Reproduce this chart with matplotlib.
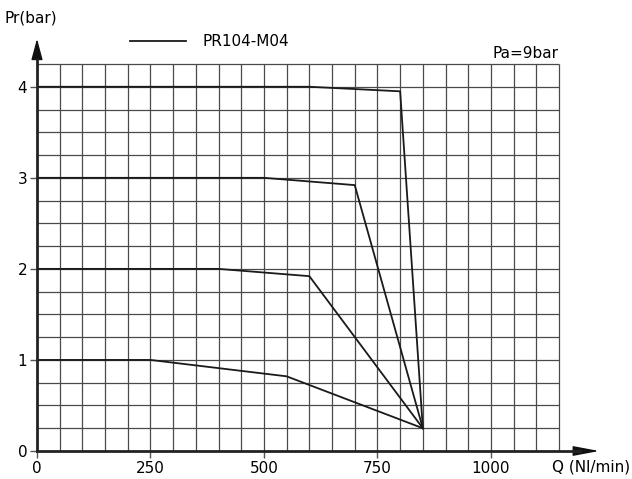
import numpy as np
import matplotlib.pyplot as plt

# data (Q in Nl/min, Pr in bar)
q1 = [0, 250, 550, 850]
p1 = [1.0, 1.0, 0.82, 0.25]
q2 = [0, 400, 600, 850]
p2 = [2.0, 2.0, 1.92, 0.25]
q3 = [0, 500, 700, 850]
p3 = [3.0, 3.0, 2.92, 0.25]
q4 = [0, 600, 800, 850]
p4 = [4.0, 4.0, 3.95, 0.25]

xticks = [0, 250, 500, 750, 1000]
yticks = [0, 1, 2, 3, 4]
label = "PR104-M04"

fig = plt.figure(figsize=(6.32, 4.79), dpi=100)
ax = fig.add_axes([37/632, 28/479, 522/632, 387/479])

ax.set_xlim(0, 1150)
ax.set_ylim(0, 4.25)

# grid: every 50 Nl/min and every 0.25 bar
ax.vlines(np.arange(50, 1151, 50), 0, 4.25, color="#4a4a4a", lw=0.9, clip_on=False)
ax.hlines(np.arange(0.25, 4.26, 0.25), 0, 1150, color="#4a4a4a", lw=0.9, clip_on=False)

for q, p in [(q1, p1), (q2, p2), (q3, p3), (q4, p4)]:
    ax.plot(q, p, color="#1a1a1a", lw=1.3, zorder=3)

ax.set_xticks(xticks)
ax.set_yticks(yticks)
ax.tick_params(axis="both", which="major", length=5, width=1, color="#555555",
               labelsize=11, pad=2)

for s in ax.spines.values():
    s.set_visible(False)

# axes with arrows, drawn in figure pixel coordinates
fig.add_artist(plt.Line2D([37/632, 37/632], [28/479, (479-60)/479],
                          transform=fig.transFigure, color="#222222", lw=2))
fig.add_artist(plt.Line2D([37/632, 580/632], [28/479, 28/479],
                          transform=fig.transFigure, color="#222222", lw=2))
ax.annotate("", xy=(37/632, (479-36)/479), xytext=(37/632, (479-62)/479),
            xycoords="figure fraction", textcoords="figure fraction",
            arrowprops=dict(arrowstyle="-|>,head_length=1.3,head_width=0.35",
                            color="#111111", lw=1))
ax.annotate("", xy=(602/632, 28/479), xytext=(575/632, 28/479),
            xycoords="figure fraction", textcoords="figure fraction",
            arrowprops=dict(arrowstyle="-|>,head_length=1.6,head_width=0.3",
                            color="#111111", lw=1))

# legend and texts
fig.add_artist(plt.Line2D([130/632, 186/632], [(479-41)/479, (479-41)/479],
                          transform=fig.transFigure, color="#1a1a1a", lw=1.3))
fig.text(203/632, (479-41)/479, label, fontsize=11, va="center", ha="left")
fig.text(558/632, (479-53)/479, "Pa=9bar", fontsize=11, va="center", ha="right")
fig.text(5/632, (479-18)/479, "Pr(bar)", fontsize=11, va="center", ha="left")
fig.text(630/632, (479-467)/479, "Q (Nl/min)", fontsize=11, va="center", ha="right")

fig.savefig("out.png", dpi=100)
